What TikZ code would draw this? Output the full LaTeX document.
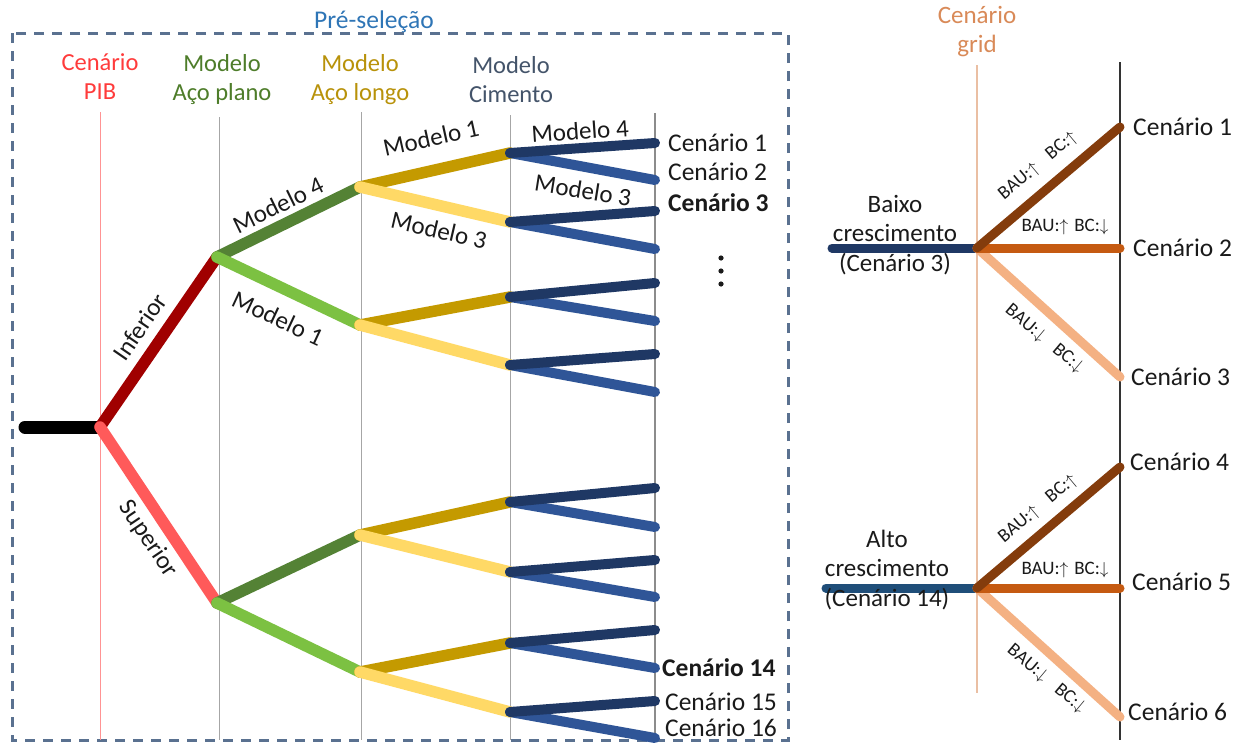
\documentclass[tikz,border=0pt]{standalone}
\usepackage{fontspec}
\setmainfont{Carlito}
\definecolor{preblue}{HTML}{2E75B6}
\definecolor{boxgray}{HTML}{5A7190}
\definecolor{pibred}{HTML}{FF3B3B}
\definecolor{planogreen}{HTML}{4E7D2A}
\definecolor{longogold}{HTML}{B8920A}
\definecolor{cimgray}{HTML}{44546A}
\definecolor{gridorange}{HTML}{D98A58}
\definecolor{infred}{HTML}{A00000}
\definecolor{supred}{HTML}{FF5A5A}
\definecolor{dkgreen}{HTML}{548235}
\definecolor{ltgreen}{HTML}{7CC142}
\definecolor{gold}{HTML}{C49A00}
\definecolor{ltyellow}{HTML}{FFD966}
\definecolor{navy}{HTML}{1F3864}
\definecolor{midblue}{HTML}{2F5597}
\definecolor{steel}{HTML}{1F4E79}
\definecolor{brown}{HTML}{843C0C}
\definecolor{rust}{HTML}{C55A11}
\definecolor{peach}{HTML}{F4B183}
\definecolor{ink}{HTML}{1A1A1A}
\begin{document}
\begin{tikzpicture}[x=1pt,y=-1pt,
  branch/.style={line width=11.5pt, line cap=round},
  leafline/.style={line width=10pt, line cap=round},
  gridline/.style={line width=9pt, line cap=round},
  guide/.style={line width=1pt, draw=black!35},
  head/.style={font=\fontsize{24.5}{29}\selectfont, align=center, inner sep=0pt},
  lbl/.style={font=\fontsize{25}{29}\selectfont, text=ink, inner sep=0pt},
  scen/.style={font=\fontsize{25.5}{29}\selectfont, text=ink, inner sep=0pt, anchor=west},
  scenbold/.style={scen, font=\fontsize{25.5}{29}\selectfont\bfseries},
  small/.style={font=\fontsize{19}{22}\selectfont, text=ink, inner sep=0pt},
  boxline/.style={draw=boxgray, line width=3pt, dash pattern=on 10pt off 8pt}]
\useasboundingbox (0,0) rectangle (1243,745);
\fill[white] (0,0) rectangle (1243,745);

% pre-selection frame
\draw[boxline] (12,33) rectangle (788,740);
\node[head, text=preblue, font=\fontsize{25.5}{29}\selectfont] (pre) at (374,22) {Pré-seleção};

% column guides
\draw[line width=1pt, draw=pibred!55] (100,112) -- (100,740);
\draw[guide] (219,117) -- (219,740);
\draw[guide] (361,112) -- (361,740);
\draw[guide] (510,115) -- (510,740);
\draw[line width=2pt, draw=black!45] (655,113) -- (655,740);

% column headers
\node[head, text=pibred] (hpib) at (100,77) {Cenário\\PIB};
\node[head, text=planogreen] (hplano) at (222,80) {Modelo\\Aço plano};
\node[head, text=longogold] (hlongo) at (360,80) {Modelo\\Aço longo};
\node[head, text=cimgray] (hcim) at (511,80) {Modelo\\Cimento};

% tree points
\coordinate (r0) at (25,427);
\coordinate (p) at (100,427);
\coordinate (a1) at (217,257);
\coordinate (a2) at (217,603);
\coordinate (l1) at (360,187);
\coordinate (l2) at (360,325);
\coordinate (l3) at (360,535);
\coordinate (l4) at (360,672);
\coordinate (c1) at (510,153);
\coordinate (c2) at (510,222);
\coordinate (c3) at (510,297);
\coordinate (c4) at (510,365);
\coordinate (c5) at (510,502);
\coordinate (c6) at (510,572);
\coordinate (c7) at (510,643);
\coordinate (c8) at (510,712);
\foreach \n/\y in {1/143,2/180,3/211,4/249,5/283,6/321,7/354,8/392,
                    9/488,10/527,11/560,12/597,13/630,14/668,15/701,16/738}
  \coordinate (e\n) at (655,\y);

% root and GDP branches
\draw[line width=13pt, line cap=round, draw=black] (r0) -- (p);
\draw[branch, draw=infred] (p) -- (a1);
\draw[branch, draw=supred] (p) -- (a2);

% flat steel branches
\foreach \a/\u/\d in {a1/l1/l2, a2/l3/l4} {
  \draw[branch, draw=dkgreen] (\a) -- (\u);
  \draw[branch, draw=ltgreen] (\a) -- (\d);
}
% long steel branches
\foreach \a/\u/\d in {l1/c1/c2, l2/c3/c4, l3/c5/c6, l4/c7/c8} {
  \draw[branch, draw=gold] (\a) -- (\u);
  \draw[branch, draw=ltyellow] (\a) -- (\d);
}
% cement branches
\foreach \a/\u/\d in {c1/e1/e2, c2/e3/e4, c3/e5/e6, c4/e7/e8,
                      c5/e9/e10, c6/e11/e12, c7/e13/e14, c8/e15/e16} {
  \draw[leafline, draw=midblue] (\a) -- (\d);
  \draw[leafline, draw=navy] (\a) -- (\u);
}

% branch labels
\node[lbl, rotate=55.5] (tinf) at (140,327) {Inferior};
\node[lbl, rotate=-56] (tsup) at (148,539) {Superior};
\node[lbl, rotate=26] (tm4a) at (278,205) {Modelo 4};
\node[lbl, rotate=-25] (tm1a) at (278,318) {Modelo 1};
\node[lbl, rotate=12.5] (tm1b) at (431,138) {Modelo 1};
\node[lbl, rotate=-13] (tm3b) at (439,230) {Modelo 3};
\node[lbl, rotate=4] (tm4c) at (580,131) {Modelo 4};
\node[lbl, rotate=-9] (tm3c) at (583,190) {Modelo 3};

% scenario labels
\node[scen] (s1) at (668,143) {Cenário 1};
\node[scen] (s2) at (668,172) {Cenário 2};
\node[scenbold] (s3) at (668,203) {Cenário 3};
\foreach \y in {258,271,284} \fill[ink] (721,\y) circle (2.6pt);
\node[scenbold] (s14) at (662,668) {Cenário 14};
\node[scen] (s15) at (665,702) {Cenário 15};
\node[scen] (s16) at (665,728) {Cenário 16};

% grid scenarios
\node[head, text=gridorange, font=\fontsize{25}{29}\selectfont] (hgrid) at (977,32) {Cenário\\grid};
\draw[line width=1.2pt, draw=gridorange!55] (977,65) -- (977,693);
\draw[line width=1.5pt, draw=black!80] (1120,62) -- (1120,740);

\coordinate (g0) at (832,248);
\coordinate (g1) at (977,248);
\coordinate (t1) at (1120,127);
\coordinate (t2) at (1120,248);
\coordinate (t3) at (1120,377);
\coordinate (h0) at (826,588);
\coordinate (h1) at (977,588);
\coordinate (t4) at (1120,467);
\coordinate (t5) at (1120,588);
\coordinate (t6) at (1120,717);

\draw[gridline, draw=navy] (g0) -- (g1);
\draw[gridline, draw=steel] (h0) -- (h1);
\foreach \s/\a/\b/\c in {g1/t1/t2/t3, h1/t4/t5/t6} {
  \draw[gridline, draw=peach] (\s) -- (\c);
  \draw[gridline, draw=rust] (\s) -- (\b);
  \draw[gridline, draw=brown] (\s) -- (\a);
}

\node[head, text=ink, font=\fontsize{25}{29.5}\selectfont] (low) at (895,235) {Baixo\\crescimento\\(Cenário 3)};
\node[head, text=ink, font=\fontsize{25}{29.5}\selectfont] (high) at (887,570) {Alto\\crescimento\\(Cenário 14)};

\node[scen] (r1) at (1133,127) {Cenário 1};
\node[scen] (r2) at (1133,248) {Cenário 2};
\node[scen] (r3) at (1131,377) {Cenário 3};
\node[scen] (r4) at (1130,462) {Cenário 4};
\node[scen] (r5) at (1132,582) {Cenário 5};
\node[scen] (r6) at (1128,712) {Cenário 6};

% grid branch labels
\node[small, rotate=40] (u1) at (1038,166) {BAU:$\uparrow$\hspace{15pt}BC:$\uparrow$};
\node[small] (m1) at (1065,227) {BAU:$\uparrow$\hspace{6pt}BC:$\downarrow$};
\node[small, rotate=-40] (d1) at (1044,339) {BAU:$\downarrow$\hspace{15pt}BC:$\downarrow$};
\node[small, rotate=40] (u2) at (1038,509) {BAU:$\uparrow$\hspace{15pt}BC:$\uparrow$};
\node[small] (m2) at (1065,570) {BAU:$\uparrow$\hspace{6pt}BC:$\downarrow$};
\node[small, rotate=-40] (d2) at (1046,679) {BAU:$\downarrow$\hspace{15pt}BC:$\downarrow$};
\end{tikzpicture}
\end{document}
